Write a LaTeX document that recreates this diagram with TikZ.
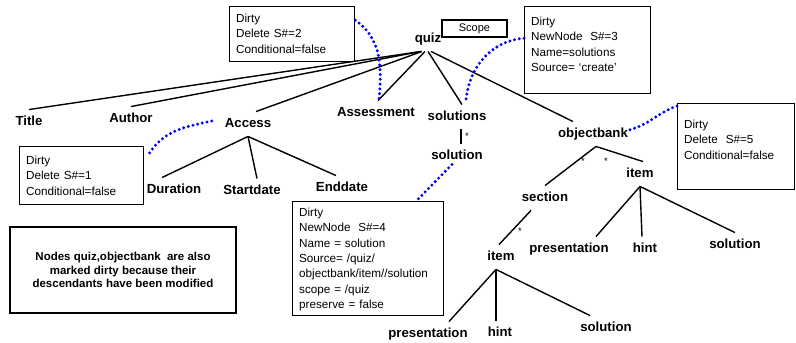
\documentclass[tikz,border=0pt]{standalone}
\usepackage{fontspec}
\setmainfont{Liberation Sans}
\begin{document}
\begin{tikzpicture}[x=1pt,y=-1pt,
    lbl/.style={font=\fontsize{13.2}{15}\selectfont\bfseries,text height=9.5pt,text depth=3pt,inner xsep=1pt,inner ysep=6pt},
    dirtybox/.style={draw,line width=1.3pt,anchor=north west,align=left,inner xsep=6.5pt,inner ysep=0pt,font=\fontsize{11.7}{15.3}\selectfont},
    branch/.style={line width=1.4pt},
    dirtylink/.style={blue,line width=3.3pt,line cap=round,dash pattern=on 0pt off 4.8pt},
    mult/.style={font=\fontsize{9.5}{9.5}\selectfont,inner sep=0pt}]
    \useasboundingbox (0,0) rectangle (796,343);

    \node[lbl] (quiz) at (428,39) {quiz};
    \node[lbl] (title) at (29,122) {Title};
    \node[lbl] (author) at (131,119) {Author};
    \node[lbl] (access) at (248,124) {Access};
    \node[lbl] (assessment) at (376,113) {Assessment};
    \node[lbl] (solutions) at (457,117) {solutions};
    \node[lbl] (solution) at (457,156) {solution};
    \node[lbl] (objectbank) at (593,134) {objectbank};
    \node[lbl] (duration) at (174,190) {Duration};
    \node[lbl] (startdate) at (252,191) {Startdate};
    \node[lbl] (enddate) at (342,188) {Enddate};
    \node[lbl] (obitem) at (640,174) {item};
    \node[lbl] (section) at (545,198) {section};
    \node[lbl] (secitem) at (501,257) {item};
    \node[lbl] (obpres) at (569,249) {presentation};
    \node[lbl] (obhint) at (645,249) {hint};
    \node[lbl] (obsol) at (735,245) {solution};
    \node[lbl] (secpres) at (428,334) {presentation};
    \node[lbl] (sechint) at (500,333) {hint};
    \node[lbl] (secsol) at (606,328) {solution};

    \node[draw,line width=1.3pt,minimum width=65pt,minimum height=17pt,inner sep=0pt,font=\fontsize{11}{12}\selectfont] (scopebox) at (474.5,28.5) {Scope};

    \node[dirtybox,text width=112pt,text height=16pt,text depth=39pt] (box2) at (229,6) {Dirty\\Delete S\#=2\\Conditional=false};
    \node[dirtybox,text width=113pt,text height=19pt,text depth=68pt] (box3) at (524,6) {Dirty\\NewNode\ \ S\#=3\\Name=solutions\\Source= `create'};
    \node[dirtybox,text width=104pt,text height=25pt,text depth=61pt] (box5) at (677,103) {Dirty\\Delete\ \ S\#=5\\Conditional=false};
    \node[dirtybox,text width=111pt,text height=18pt,text depth=40pt] (box1) at (19,146) {Dirty\\Delete S\#=1\\Conditional=false};
    \node[dirtybox,text width=138pt,text height=15pt,text depth=99pt] (box4) at (292,201) {Dirty\\NewNode\ \ S\#=4\\Name = solution\\Source= /quiz/\\objectbank/item//solution\\scope = /quiz\\preserve = false};

    \node[draw,line width=1.3pt,minimum width=226pt,minimum height=86pt,align=center,font=\fontsize{11.5}{13.5}\selectfont\bfseries] (note) at (123,270) {Nodes quiz,objectbank\ \ are also\\marked dirty because their\\descendants have been modified};

    \draw[branch] ([xshift=-7pt]quiz.south) -- (title.north);
    \draw[branch] ([xshift=-7pt]quiz.south) -- (author.north);
    \draw[branch] ([xshift=-6pt]quiz.south) -- ([xshift=8pt]access.north);
    \draw[branch] ([xshift=-3pt]quiz.south) -- ([xshift=2pt]assessment.north);
    \draw[branch] (quiz.south) -- ([xshift=5pt]solutions.north);
    \draw[branch] ([xshift=3pt]quiz.south) -- ([xshift=-20pt]objectbank.north);
    \draw[branch] ([xshift=4pt]solutions.south) -- ([xshift=4pt]solution.north);

    \draw[branch] (access.south) -- ([xshift=-12pt]duration.north);
    \draw[branch] (access.south) -- ([xshift=5pt]startdate.north);
    \draw[branch] (access.south) -- ([xshift=-6pt]enddate.north);

    \draw[branch] ([xshift=3pt]objectbank.south) -- (section.north);
    \draw[branch] ([xshift=3pt]objectbank.south) -- ([xshift=3pt]obitem.north);
    \draw[branch] (obitem.south) -- ([xshift=27pt]obpres.north);
    \draw[branch] (obitem.south) -- ([xshift=-3pt]obhint.north);
    \draw[branch] (obitem.south) -- (obsol.north);

    \draw[branch] ([xshift=-14pt]section.south) -- ([xshift=-2pt]secitem.north);
    \draw[branch] ([xshift=-5pt]secitem.south) -- ([xshift=21pt]secpres.north);
    \draw[branch] ([xshift=-5pt]secitem.south) -- ([xshift=-4pt]sechint.north);
    \draw[branch] ([xshift=-5pt]secitem.south) -- ([xshift=-16pt]secsol.north);

    \node[mult] (solstar) at (467,136) {*};
    \node[mult] (secstar) at (583,161) {*};
    \node[mult] (itemstar) at (606,161) {*};
    \node[mult] (sitemstar) at (520,231) {*};

    \draw[dirtylink] ([yshift=14pt]box2.east) to[out=-35,in=85] ([xshift=3pt]assessment.north);
    \draw[dirtylink] ([yshift=12pt]box3.west) to[out=185,in=85] ([xshift=9pt,yshift=4pt]solutions.north);
    \draw[dirtylink] ([yshift=-3pt]box5.north west) to[out=200,in=15] ([yshift=4pt]objectbank.east);
    \draw[dirtylink] ([xshift=-12pt,yshift=3pt]access.west) to[out=192,in=59] ([xshift=4pt,yshift=-9pt]box1.north east);
    \draw[dirtylink] ([xshift=-5pt,yshift=4pt]solution.south) -- ([xshift=-28pt]box4.north east);
\end{tikzpicture}
\end{document}
